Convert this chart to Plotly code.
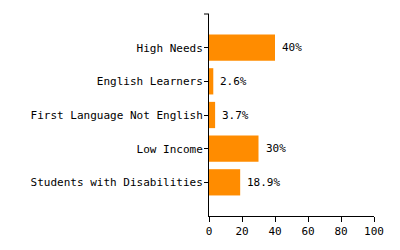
import plotly.graph_objects as go

categories = ["High Needs", "English Learners", "First Language Not English", "Low Income", "Students with Disabilities"]
values = [40, 2.6, 3.7, 30, 18.9]
labels = ["40%", "2.6%", "3.7%", "30%", "18.9%"]
x_ticks = [0, 20, 40, 60, 80, 100]

font = dict(family="DejaVu Sans Mono", size=11, color="#000")

fig = go.Figure(go.Bar(
    x=values, y=categories, orientation="h",
    marker=dict(color="#FF8C00", line=dict(width=0)),
    cliponaxis=False, width=0.78,
))
for v, c, t in zip(values, categories, labels):
    fig.add_annotation(x=v, y=c, text=t, showarrow=False, xanchor="left",
                       xshift=5, font=font)
fig.update_layout(
    width=400, height=250,
    margin=dict(l=209, r=26, t=14, b=29),
    paper_bgcolor="white", plot_bgcolor="white",
    font=font, showlegend=False,
    xaxis=dict(range=[0, 100], tickvals=x_ticks, showgrid=False, zeroline=False,
               showline=True, linecolor="#000", linewidth=1,
               ticks="outside", ticklen=5, tickcolor="#000", tickfont=font),
    yaxis=dict(categoryorder="array", categoryarray=categories, autorange=False,
               range=[5.0, -1.0], showgrid=False, zeroline=False,
               showline=True, linecolor="#000", linewidth=1,
               ticks="outside", ticklen=4, tickcolor="#000", tickfont=font,
               ticklabelstandoff=-1),
    shapes=[dict(type="line", xref="paper", yref="paper", x0=-5/165, x1=0, y0=1, y1=1,
                 line=dict(color="#000", width=1))],
)
fig.write_html("out.html")
